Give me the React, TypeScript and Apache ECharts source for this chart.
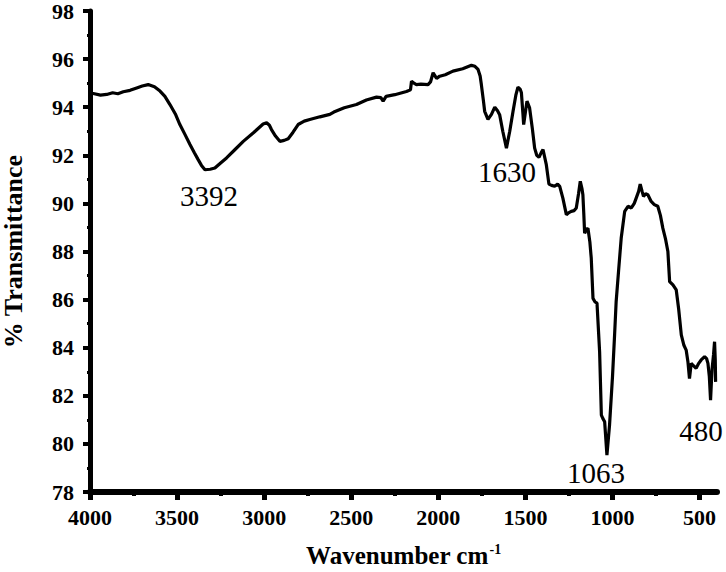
import React, { useEffect, useRef } from "react";
import * as echarts from "echarts";

// Wavenumber (cm-1) and % transmittance, high to low wavenumber
const wavenumbers = [
  4000, 3981, 3940, 3904, 3870, 3840, 3809, 3770, 3732, 3700, 3666, 3630, 3598, 3570, 3541, 3510,
  3484, 3455, 3426, 3400, 3379, 3360, 3340, 3310, 3283, 3250, 3216, 3170, 3120, 3060, 3006, 2986,
  2970, 2958, 2935, 2910, 2885, 2862, 2835, 2805, 2770, 2738, 2680, 2623, 2600, 2540, 2470, 2413,
  2355, 2330, 2317, 2300, 2250, 2183, 2160, 2154, 2140, 2126, 2100, 2059, 2045, 2030, 2010, 1992,
  1960, 1916, 1860, 1810, 1790, 1772, 1760, 1753, 1740, 1734, 1715, 1695, 1676, 1660, 1648, 1630,
  1609, 1590, 1571, 1555, 1543, 1530, 1523, 1515, 1510, 1500, 1491, 1476, 1460, 1447, 1435, 1422,
  1410, 1399, 1380, 1365, 1350, 1332, 1315, 1303, 1285, 1265, 1250, 1237, 1220, 1208, 1195, 1185,
  1175, 1170, 1165, 1160, 1150, 1141, 1130, 1122, 1112, 1100, 1089, 1074, 1064, 1055, 1045, 1032,
  1017, 1000, 988, 979, 965, 950, 930, 911, 892, 875, 864, 850, 841, 830, 822, 810,
  797, 778, 760, 740, 725, 711, 695, 682, 672, 653, 634, 620, 605, 590, 577, 567,
  558, 548, 535, 520, 505, 491, 471, 460, 452, 444, 437, 432, 428, 420, 414, 410,
  408,
];
const transmittance = [
  94.58, 94.57, 94.5, 94.53, 94.6, 94.56, 94.64, 94.7, 94.8, 94.88, 94.94, 94.85, 94.67, 94.45, 94.11, 93.72,
  93.28, 92.87, 92.45, 92.1, 91.82, 91.58, 91.4, 91.42, 91.47, 91.68, 91.89, 92.22, 92.58, 92.95, 93.3, 93.35,
  93.25, 93.07, 92.8, 92.58, 92.62, 92.69, 92.95, 93.28, 93.42, 93.49, 93.6, 93.7, 93.8, 93.98, 94.11, 94.3,
  94.42, 94.4, 94.25, 94.45, 94.52, 94.65, 94.72, 95.08, 95.0, 94.94, 94.96, 94.94, 95.05, 95.43, 95.2, 95.29,
  95.35, 95.5, 95.6, 95.74, 95.7, 95.57, 95.3, 94.94, 94.2, 93.83, 93.49, 93.7, 94.0, 93.85, 93.69, 93.0,
  92.3, 93.0, 93.83, 94.5, 94.83, 94.75, 94.6, 93.8, 93.28, 93.8, 94.25, 93.97, 93.1, 92.3, 92.0, 91.92,
  92.1, 92.24, 91.61, 90.8, 90.75, 90.71, 90.8, 90.71, 90.22, 89.53, 89.62, 89.67, 89.7, 89.81, 90.4, 90.92,
  90.6, 90.36, 89.6, 88.76, 88.9, 88.97, 88.4, 87.72, 86.05, 85.9, 85.85, 83.83, 81.2, 81.05, 80.92, 79.53,
  80.78, 82.8, 84.53, 85.92, 87.2, 88.56, 89.67, 89.88, 89.81, 90.0, 90.22, 90.5, 90.8, 90.5, 90.29, 90.4,
  90.36, 90.08, 89.95, 89.88, 89.5, 88.97, 88.5, 88.0, 86.75, 86.61, 86.4, 85.6, 84.53, 84.1, 83.9, 83.42,
  82.72, 83.35, 83.25, 83.14, 83.35, 83.49, 83.63, 83.55, 83.35, 82.8, 81.82, 82.6, 83.14, 83.7, 84.25, 83.5,
  82.58,
];

const xMajorTicks = [4000, 3500, 3000, 2500, 2000, 1500, 1000, 500];
const xMinorTicks = [3750, 3250, 2750, 2250, 1750, 1250, 750];
const peakLabels = ["3392", "1630", "1063", "480"];

const FONT = "Liberation Serif";

export default function App() {
  const ref = useRef<HTMLDivElement>(null);

  useEffect(() => {
    if (!ref.current) return;
    const chart = echarts.init(ref.current, null, { renderer: "svg" });
    const data = wavenumbers.map((w, i) => [w, transmittance[i]]);
    const labelPos = [
      [209, 196],
      [507, 172],
      [596, 473],
      [701, 431],
    ];

    chart.setOption({
      animation: false,
      backgroundColor: "#ffffff",
      grid: {
        left: 90,
        right: 9,
        top: 11,
        bottom: 80,
        containLabel: false,
        outerBoundsMode: "none",
      },
      xAxis: [
        {
          type: "value",
          min: 400,
          max: 4000,
          inverse: true,
          position: "bottom",
          name: "{a|Wavenumber cm}{b|-1}",
          nameLocation: "middle",
          nameGap: 50,
          nameTextStyle: {
            rich: {
              a: { fontFamily: FONT, fontWeight: "bold", fontSize: 25, color: "#000" },
              b: {
                fontFamily: FONT,
                fontWeight: "bold",
                fontSize: 14,
                color: "#000",
                padding: [0, 0, 13, 1],
              },
            },
          },
          axisLine: { show: true, onZero: false, lineStyle: { color: "#000", width: 6 } },
          axisTick: {
            show: true,
            customValues: xMajorTicks,
            length: 8,
            lineStyle: { color: "#000", width: 5 },
          },
          axisLabel: {
            customValues: xMajorTicks,
            formatter: (v: number) => String(v),
            margin: 14,
            fontFamily: FONT,
            fontWeight: "bold",
            fontSize: 22,
            color: "#000",
          },
          splitLine: { show: false },
        },
        {
          type: "value",
          min: 400,
          max: 4000,
          inverse: true,
          position: "bottom",
          axisLine: { show: false, onZero: false },
          axisTick: {
            show: true,
            customValues: xMinorTicks,
            length: 4,
            lineStyle: { color: "#000", width: 4 },
          },
          axisLabel: { show: false },
          splitLine: { show: false },
        },
      ],
      yAxis: {
        type: "value",
        min: 78,
        max: 98,
        interval: 2,
        position: "left",
        name: "% Transmittance",
        nameLocation: "middle",
        nameGap: 64,
        nameTextStyle: { fontFamily: FONT, fontWeight: "bold", fontSize: 26, color: "#000" },
        axisLine: { show: true, onZero: false, lineStyle: { color: "#000", width: 5 } },
        axisTick: { show: true, length: 7, lineStyle: { color: "#000", width: 4 } },
        minorTick: { show: true, splitNumber: 2, length: 3, lineStyle: { color: "#000", width: 3 } },
        axisLabel: {
          margin: 16,
          fontFamily: FONT,
          fontWeight: "bold",
          fontSize: 22,
          color: "#000",
        },
        splitLine: { show: false },
        minorSplitLine: { show: false },
      },
      series: [
        {
          type: "line",
          data,
          xAxisIndex: 0,
          yAxisIndex: 0,
          showSymbol: false,
          symbol: "none",
          smooth: false,
          lineStyle: { color: "#000", width: 3.2 },
          z: 3,
        },
      ],
      graphic: peakLabels.map((t, i) => ({
        type: "text",
        x: labelPos[i][0],
        y: labelPos[i][1],
        z: 10,
        style: {
          text: t,
          fontFamily: FONT,
          fontSize: 29,
          fill: "#000",
          align: "center",
          verticalAlign: "middle",
        },
      })),
    });

    return () => chart.dispose();
  }, []);

  return (
    <div
      ref={ref}
      style={{ position: "fixed", left: 0, top: 0, width: 726, height: 572, background: "#fff" }}
    />
  );
}
